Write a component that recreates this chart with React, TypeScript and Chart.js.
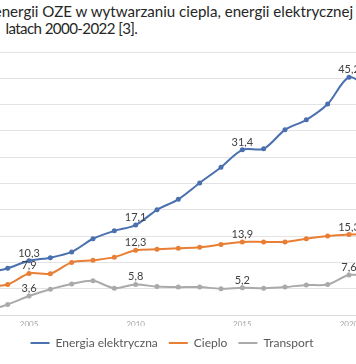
import React, { useEffect, useRef } from "react";
import { Chart, registerables } from "chart.js";

Chart.register(...registerables);

const YEARS = [
  "2000", "2001", "2002", "2003", "2004", "2005", "2006", "2007", "2008", "2009", "2010",
  "2011", "2012", "2013", "2014", "2015", "2016", "2017", "2018", "2019", "2020", "2021", "2022",
];
const TICK_YEARS = ["2000", "2005", "2010", "2015", "2020"];
const LABEL_YEARS = ["2000", "2005", "2010", "2015", "2020"];

const ELECTRICITY = [6.5, 7.0, 7.4, 8.0, 8.9, 10.3, 10.9, 12.0, 14.5, 16.0, 17.1, 20.0, 22.0, 25.1, 28.1, 31.4, 31.6, 35.2, 37.1, 40.1, 45.2, 43.5, 46.0];
const HEAT = [4.5, 4.8, 5.0, 5.4, 5.8, 7.9, 7.85, 10.0, 10.4, 11.0, 12.3, 12.5, 12.7, 12.9, 13.4, 13.9, 13.9, 13.9, 14.5, 15.0, 15.3, 15.5, 16.0];
const TRANSPORT = [0.3, 0.4, 0.5, 0.9, 2.0, 3.6, 4.9, 5.9, 6.5, 5.1, 5.8, 5.4, 5.3, 5.3, 5.0, 5.2, 5.1, 5.3, 5.7, 5.8, 7.6, 7.5, 8.0];

const SERIES_NAMES = ["Energia elektryczna", "Cieplo", "Transport"];
const COLORS = ["#4A70B0", "#E97E35", "#AAAAAA"];

const TITLE_LINE_1 = "energii OZE w wytwarzaniu ciepla, energii elektrycznej";
const TITLE_LINE_2 = "latach 2000-2022 [3].";

const fmt = (v: number) => v.toFixed(1).replace(".", ",");

const valueLabels = {
  id: "valueLabels",
  afterDatasetsDraw(chart: any) {
    const ctx = chart.ctx;
    ctx.save();
    ctx.font = "11px Lato";
    ctx.fillStyle = "#404040";
    ctx.textAlign = "center";
    ctx.textBaseline = "alphabetic";
    chart.data.datasets.forEach((ds: any, di: number) => {
      const meta = chart.getDatasetMeta(di);
      LABEL_YEARS.forEach((y) => {
        const i = YEARS.indexOf(y);
        const el = meta.data[i];
        if (!el) return;
        ctx.fillText(fmt(ds.data[i]), el.x, el.y - 4);
      });
    });
    ctx.restore();
  },
};

const titleStyle: React.CSSProperties = {
  position: "absolute",
  whiteSpace: "nowrap",
  fontFamily: "Lato",
  fontSize: 15.1,
  lineHeight: "17px",
  color: "#262626",
};

export default function App() {
  const ref = useRef<HTMLCanvasElement>(null);

  useEffect(() => {
    if (!ref.current) return;
    const datasets = [ELECTRICITY, HEAT, TRANSPORT].map((d, i) => ({
      label: SERIES_NAMES[i],
      data: d,
      yAxisID: "y",
      borderColor: COLORS[i],
      backgroundColor: COLORS[i],
      borderWidth: 2,
      pointRadius: 1.5,
      pointBorderWidth: 2,
      pointBorderColor: COLORS[i],
      pointBackgroundColor: COLORS[i],
      pointHoverRadius: 0,
      tension: 0.3,
    }));
    const chart = new Chart(ref.current, {
      type: "line",
      data: { labels: YEARS, datasets },
      plugins: [valueLabels],
      options: {
        animation: false,
        responsive: false,
        maintainAspectRatio: false,
        layout: { padding: { left: 0, right: 0, top: 52, bottom: 5 } },
        plugins: {
          tooltip: { enabled: false },
          legend: {
            position: "bottom",
            labels: {
              usePointStyle: true,
              pointStyle: "line",
              pointStyleWidth: 19,
              boxHeight: 12,
              padding: 11,
              color: "#595959",
              font: { family: "Lato", size: 12 },
            },
          },
        },
        scales: {
          x: {
            type: "category",
            offset: true,
            grid: { display: false, drawTicks: false },
            border: { display: true, color: "#d9d9d9" },
            ticks: {
              autoSkip: false,
              maxRotation: 0,
              padding: 5,
              color: "#a6a6a6",
              font: { family: "Lato", size: 8 },
              callback: (_v: any, i: number) => (TICK_YEARS.includes(YEARS[i]) ? YEARS[i] : ""),
            },
            afterFit: (s: any) => {
              s.height = 11;
            },
          },
          y: {
            position: "left",
            min: 0,
            max: 50,
            grid: { color: "#e3e3e3", drawTicks: false },
            border: { display: false },
            ticks: { display: false, stepSize: 5 },
            afterFit: (s: any) => {
              s.width = 31.7;
            },
          },
          y2: {
            position: "right",
            min: 0,
            max: 50,
            grid: { display: false, drawTicks: false },
            border: { display: false },
            ticks: { display: false },
            afterFit: (s: any) => {
              s.width = 61.7;
            },
          },
        },
      },
    });
    return () => chart.destroy();
  }, []);

  return (
    <div
      style={{
        position: "fixed",
        left: 0,
        top: 0,
        width: 356,
        height: 364,
        overflow: "hidden",
        background: "#fff",
      }}
    >
      <div style={{ ...titleStyle, left: -6.3, top: 2.8 }}>{TITLE_LINE_1}</div>
      <div style={{ ...titleStyle, left: 5.5, top: 19.8, letterSpacing: -0.6 }}>{TITLE_LINE_2}</div>
      <canvas
        ref={ref}
        width={584}
        height={364}
        style={{ position: "absolute", left: -120, top: 0, width: 584, height: 364 }}
      />
    </div>
  );
}
